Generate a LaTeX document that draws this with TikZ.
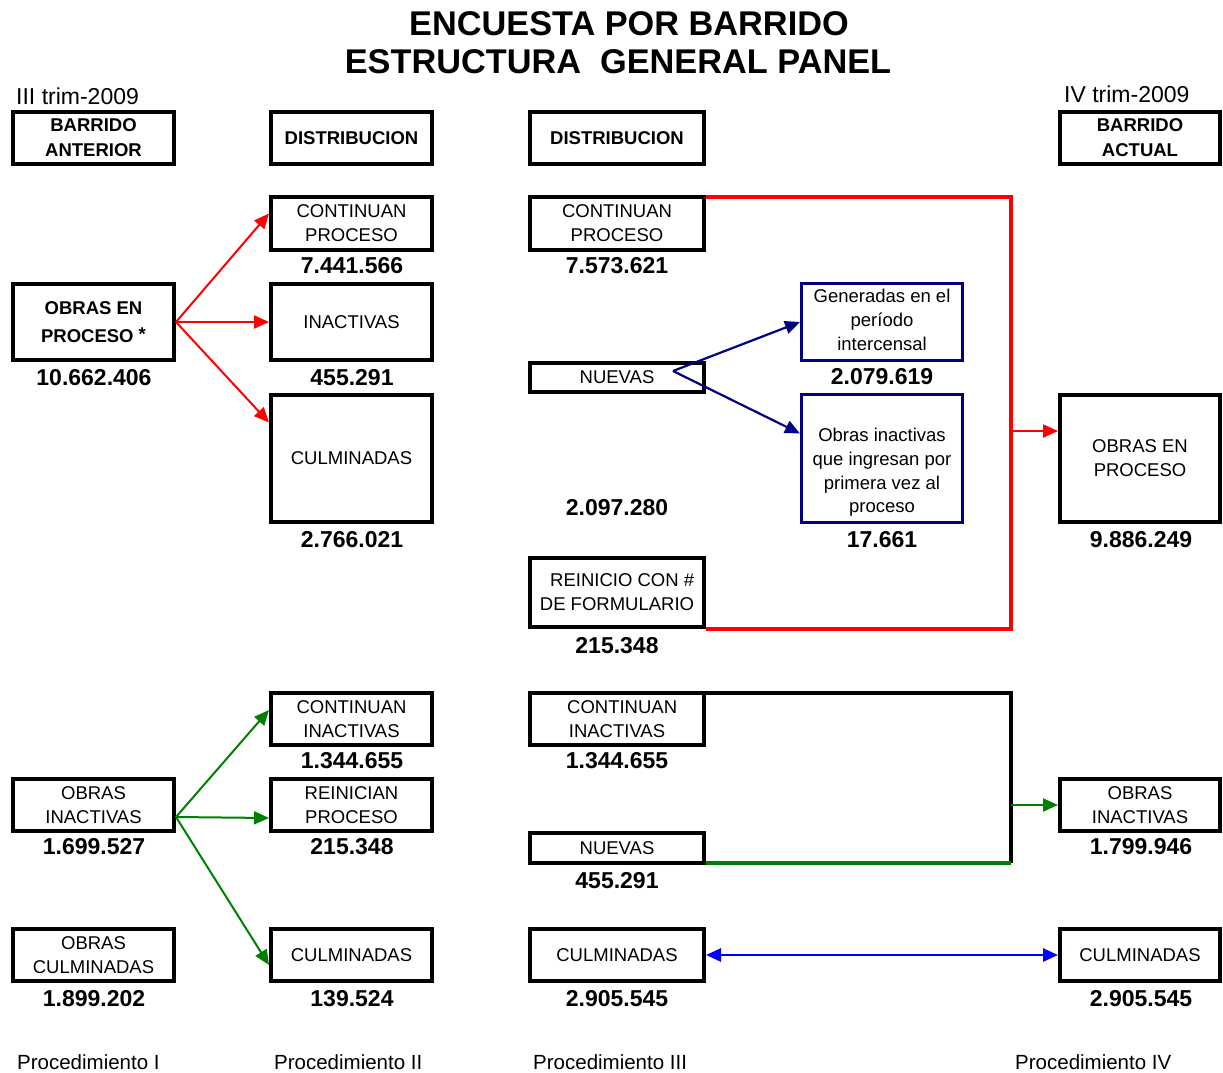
\documentclass[tikz,border=0pt]{standalone}
\usepackage{fontspec}
\setmainfont{Liberation Sans}
\usetikzlibrary{arrows.meta}
\definecolor{navy}{RGB}{0,0,128}
\definecolor{dgreen}{RGB}{0,128,0}
\definecolor{pblue}{RGB}{0,0,255}
\begin{document}
\begin{tikzpicture}[x=1pt,y=-1pt,
  box/.style={draw=black, line width=4pt, rectangle, inner sep=0pt, align=center,
    font=\fontsize{18.5}{24}\selectfont},
  bbox/.style={box, font=\fontsize{18.5}{25}\selectfont\bfseries},
  nbox/.style={draw=navy, line width=3pt, rectangle, inner sep=0pt, align=center,
    font=\fontsize{18.5}{23.5}\selectfont},
  ntext/.style={inner sep=0pt, align=center, font=\fontsize{18.5}{23.7}\selectfont},
  num/.style={inner sep=0pt, font=\fontsize{23}{26}\selectfont\bfseries},
  lbl/.style={inner sep=0pt, anchor=west},
  tip/.style={-{Triangle[length=15pt,width=13pt]}},
  arr/.style={line width=2pt, tip},
  c1/.style={minimum width=161pt},
  c2/.style={minimum width=161pt},
  c3/.style={minimum width=174pt},
  c4/.style={minimum width=160pt}]
\useasboundingbox (0,0) rectangle (1223,1073);
% title
\node[inner sep=0pt, font=\fontsize{34.3}{38}\selectfont\bfseries] (t1) at (629,24) {ENCUESTA POR BARRIDO};
\node[inner sep=0pt, font=\fontsize{34.3}{38}\selectfont\bfseries] (t2) at (618,62) {ESTRUCTURA\ \ GENERAL PANEL};
\node[lbl, font=\fontsize{23}{26}\selectfont] (trim3) at (16,96) {III trim-2009};
\node[lbl, font=\fontsize{23}{26}\selectfont] (trim4) at (1064,94) {IV trim-2009};
% headers
\node[bbox, c1, minimum height=52pt] (bA) at (93.5,138) {BARRIDO\\ANTERIOR};
\node[bbox, c2, minimum height=52pt] (d2) at (351.5,138) {DISTRIBUCION};
\node[bbox, c3, minimum height=52pt] (d3) at (617,138) {DISTRIBUCION};
\node[bbox, c4, minimum height=52pt] (bAct) at (1140,138) {BARRIDO\\ACTUAL};
% upper section
\node[bbox, c1, minimum height=76pt, font=\fontsize{18.5}{28}\selectfont\bfseries] (op1) at (93.5,322) {OBRAS EN\\PROCESO \raisebox{2pt}{*}};
\node[box, c2, minimum height=53pt] (cp2) at (351.5,223.5) {CONTINUAN\\PROCESO};
\node[box, c2, minimum height=76pt] (in2) at (351.5,322) {INACTIVAS};
\node[box, c2, minimum height=127pt] (cu2) at (351.5,458.5) {CULMINADAS};
\node[box, c3, minimum height=53pt] (cp3) at (617,223.5) {CONTINUAN\\PROCESO};
\node[box, c3, minimum height=29pt] (nu3) at (617,377.5) {NUEVAS};
\node[box, c3, minimum height=69pt] (re3) at (617,592.5) {\ \ REINICIO CON \#\\DE FORMULARIO};
\node[nbox, minimum width=161pt, minimum height=77pt] (gen) at (882,322) {};
\node[ntext] (gent) at (882,320) {Generadas en el\\período\\intercensal};
\node[nbox, minimum width=161pt, minimum height=128pt] (oin) at (882,458.5) {};
\node[ntext] (oint) at (882,472.5) {Obras inactivas\\que ingresan por\\primera vez al\\proceso};
\node[box, c4, minimum height=127pt] (op4) at (1140,458.5) {OBRAS EN\\PROCESO};
% upper numbers
\node[num] (n1) at (94,378) {10.662.406};
\node[num] (n2) at (352,266) {7.441.566};
\node[num] (n3) at (352,378) {455.291};
\node[num] (n4) at (352,540) {2.766.021};
\node[num] (n5) at (617,266) {7.573.621};
\node[num] (n6) at (882,377) {2.079.619};
\node[num] (n7) at (617,508) {2.097.280};
\node[num] (n8) at (882,540) {17.661};
\node[num] (n9) at (617,646) {215.348};
\node[num] (n10) at (1141,540) {9.886.249};
% lower section
\node[box, c1, minimum height=52pt] (oi1) at (93.5,805) {OBRAS\\INACTIVAS};
\node[box, c1, minimum height=52pt] (oc1) at (93.5,955) {OBRAS\\CULMINADAS};
\node[box, c2, minimum height=52pt] (ci2) at (351.5,719) {CONTINUAN\\INACTIVAS};
\node[box, c2, minimum height=52pt] (rp2) at (351.5,805) {REINICIAN\\PROCESO};
\node[box, c2, minimum height=52pt] (cu2b) at (351.5,955) {CULMINADAS};
\node[box, c3, minimum height=52pt] (ci3) at (617,719) {\ \ CONTINUAN\\INACTIVAS};
\node[box, c3, minimum height=30pt] (nu3b) at (617,848) {NUEVAS};
\node[box, c3, minimum height=52pt] (cu3) at (617,955) {CULMINADAS};
\node[box, c4, minimum height=52pt] (oi4) at (1140,805) {OBRAS\\INACTIVAS};
\node[box, c4, minimum height=52pt] (cu4) at (1140,955) {CULMINADAS};
% lower numbers
\node[num] (m1) at (94,847) {1.699.527};
\node[num] (m2) at (94,999) {1.899.202};
\node[num] (m3) at (352,761) {1.344.655};
\node[num] (m4) at (352,847) {215.348};
\node[num] (m5) at (352,999) {139.524};
\node[num] (m6) at (617,761) {1.344.655};
\node[num] (m7) at (617,881) {455.291};
\node[num] (m8) at (617,999) {2.905.545};
\node[num] (m9) at (1141,847) {1.799.946};
\node[num] (m10) at (1141,999) {2.905.545};
% procedimientos
\node[lbl, font=\fontsize{20.5}{24}\selectfont] (p1) at (17,1062) {Procedimiento I};
\node[lbl, font=\fontsize{20.5}{24}\selectfont] (p2) at (274,1062) {Procedimiento II};
\node[lbl, font=\fontsize{20.5}{24}\selectfont] (p3) at (533,1062) {Procedimiento III};
\node[lbl, font=\fontsize{20.5}{24}\selectfont] (p4) at (1015,1062) {Procedimiento IV};
% connector coordinates
\coordinate (rs) at (176,322);
\coordinate (gs) at (176,817);
\coordinate (ns) at (673,371);
\coordinate (rbr) at (1011,629);
\coordinate (ra) at (1011,431);
\coordinate (gbr) at (1011,863);
\coordinate (ga) at (1011,805);
% red arrows
\draw[red, arr] (rs) -- ([yshift=10pt]cp2.west);
\draw[red, arr] (rs) -- (in2.west);
\draw[red, arr] (rs) -- ([yshift=36pt]cu2.west);
% navy arrows
\draw[navy, line width=2.2pt, tip] (ns) -- (gen.west);
\draw[navy, line width=2.2pt, tip] (ns) -- ([yshift=25pt]oin.west);
% red bracket
\draw[red, line width=4pt] ([yshift=-2pt]cp3.north east) -| (rbr) -- (re3.south east);
\draw[red, arr] (ra) -- (ra -| op4.west);
% green arrows
\draw[dgreen, arr] (gs) -- ([yshift=9pt]ci2.west);
\draw[dgreen, arr] (gs) -- ([yshift=-13pt]rp2.west);
\draw[dgreen, arr] (gs) -- ([yshift=-10pt]cu2b.west);
% lower bracket
\draw[black, line width=4pt] ([yshift=-2pt]ci3.north east) -| (gbr);
\draw[dgreen, line width=4pt] (gbr) -- ([yshift=2pt]nu3b.south east);
\draw[dgreen, arr] (ga) -- (oi4.west);
% blue double arrow
\draw[pblue, line width=2.7pt, {Triangle[length=15pt,width=13pt]}-{Triangle[length=15pt,width=13pt]}] (cu3.east) -- (cu4.west);
\end{tikzpicture}
\end{document}
